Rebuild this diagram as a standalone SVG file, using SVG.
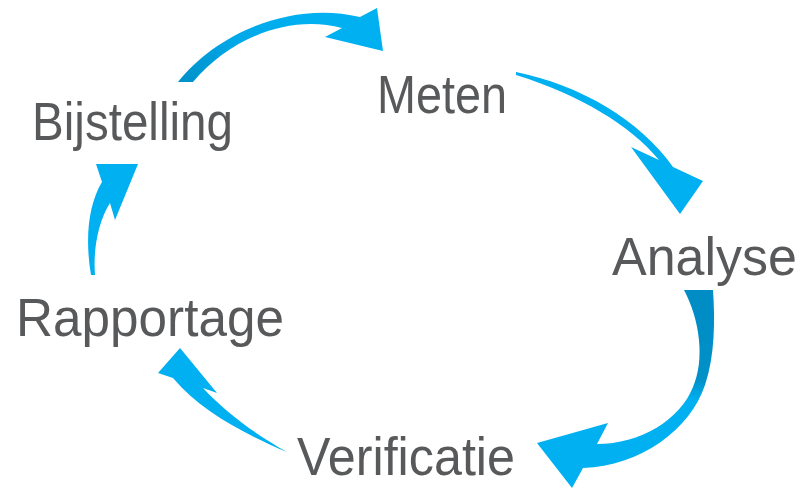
<svg xmlns="http://www.w3.org/2000/svg" width="803" height="489" viewBox="0 0 803 489">
<defs>
<style>
.lbl{font-family:"Liberation Sans","DejaVu Sans",sans-serif;font-size:54px;fill:#58595b}
.arr{fill:#00b0f0}
</style>
<linearGradient id="g1" x1="178" y1="82" x2="300" y2="15" gradientUnits="userSpaceOnUse">
<stop offset="0" stop-color="#0090c8"/><stop offset="0.5" stop-color="#00a8e8"/><stop offset="1" stop-color="#00b0f0"/>
</linearGradient>
<linearGradient id="g3" x1="700" y1="290" x2="690" y2="400" gradientUnits="userSpaceOnUse">
<stop offset="0" stop-color="#008cc4"/><stop offset="0.8" stop-color="#0090c8"/><stop offset="1" stop-color="#00b0f0"/>
</linearGradient>
</defs>
<rect width="803" height="489" fill="#ffffff"/>
<g id="connectors">
<path id="a1" fill="url(#g1)" d="M178,82 C215,35 290,0 360,17 L377,8 L383,51 L325,37 L342,28 C290,14 230,38 193,82 Z"/>
<path id="a2" class="arr" d="M516,72 C580,85 640,120 673,167 L703,181 L680,214 L631,147 L659,160 C630,125 580,95 516,75 Z"/>
<path id="a3" fill="url(#g3)" d="M684,290 C700,320 705,360 693,387 C680,420 640,444 597,444 L608,423 L537,443 L572,488 L583,468 C640,466 690,430 705,385 C715,355 715,320 713,290 Z"/>
<path id="a4" class="arr" d="M287,452 C240,432 200,410 173,378 L158,373 L180,348 L217,393 L203,388 C225,412 255,434 287,452 Z"/>
<path id="a5" class="arr" d="M91,275 C85,240 88,205 102,182 L96,164 L138,164 L115,220 L110,203 C98,222 93,250 95,275 Z"/>
</g>
<g id="meten"><text class="lbl" x="377" y="113" textLength="130" lengthAdjust="spacingAndGlyphs">Meten</text></g>
<g id="analyse"><text class="lbl" x="612" y="275" textLength="185" lengthAdjust="spacingAndGlyphs">Analyse</text></g>
<g id="verificatie"><text class="lbl" x="297" y="475" textLength="218" lengthAdjust="spacingAndGlyphs">Verificatie</text></g>
<g id="rapportage"><text class="lbl" x="16" y="336" textLength="268" lengthAdjust="spacingAndGlyphs">Rapportage</text></g>
<g id="bijstelling"><text class="lbl" x="32" y="140" textLength="201" lengthAdjust="spacingAndGlyphs">Bijstelling</text></g>
</svg>
